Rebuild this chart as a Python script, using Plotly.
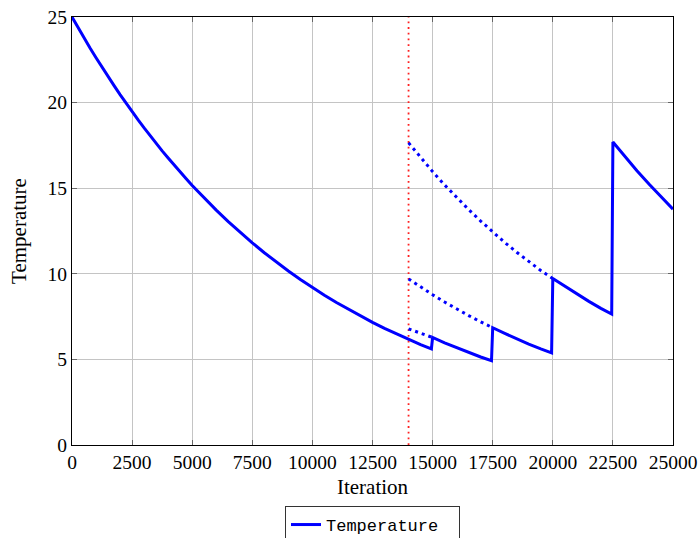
import plotly.graph_objects as go

# Main temperature curve (solid)
main_x = [0, 250, 500, 750, 1000, 1250, 1500, 1750, 2000, 2250, 2500, 2750, 3000, 3250, 3500,
          3750, 4000, 4250, 4500, 4750, 5000, 5500, 6000, 6500,
          7000, 7500, 8000, 8500, 9000, 9500, 10000, 10500, 11000, 11500, 12000, 12500,
          13000, 13500, 14000, 14500, 14950,
          15000, 15500, 16000, 16500, 17000, 17450,
          17500, 18000, 18500, 19000, 19500, 19950,
          20000, 20500, 21000, 21500, 22000, 22450,
          22500, 23000, 23500, 24000, 24500, 25000]
main_y = [25.00, 24.38, 23.78, 23.19, 22.62, 22.06, 21.52, 20.99, 20.47, 19.96, 19.47, 18.99,
          18.52, 18.06, 17.62, 17.18, 16.76, 16.34, 15.94, 15.55, 15.16, 14.42,
          13.72, 13.05, 12.41, 11.81, 11.23, 10.69, 10.16, 9.67, 9.20, 8.75, 8.32, 7.92, 7.53,
          7.16, 6.81, 6.48, 6.16, 5.86, 5.62,
          6.28, 5.97, 5.68, 5.41, 5.14, 4.92,
          6.85, 6.52, 6.20, 5.89, 5.61, 5.38,
          9.72, 9.27, 8.82, 8.39, 7.98, 7.65,
          17.70, 16.84, 16.02, 15.24, 14.49, 13.78]

# Dotted projections starting at the restart point
dotA_x = [14000, 14500, 15000]
dotA_y = [6.78, 6.52, 6.28]
dotB_x = [14000, 14500, 15000, 15500, 16000, 16500, 17000, 17500]
dotB_y = [9.70, 9.23, 8.78, 8.35, 7.94, 7.56, 7.19, 6.85]
dotC_x = [14000, 14500, 15000, 15500, 16000, 16500, 17000, 17500, 18000, 18500, 19000, 19500, 20000]
dotC_y = [17.65, 16.79, 15.97, 15.19, 14.45, 13.75, 13.08, 12.44, 11.83, 11.26, 10.71, 10.19, 9.72]

# Vertical marker
marker_x = [14000, 14000]
marker_y = [0, 25]

x_ticks = [0, 2500, 5000, 7500, 10000, 12500, 15000, 17500, 20000, 22500, 25000]
y_ticks = [0, 5, 10, 15, 20, 25]

BLUE = "#0000ff"
fig = go.Figure()
fig.add_trace(go.Scatter(x=marker_x, y=marker_y, mode="lines", showlegend=False,
                         line=dict(color="#ff2020", width=1.8, dash="1.8px,3.9px")))
for dx, dy in [(dotA_x, dotA_y), (dotB_x, dotB_y), (dotC_x, dotC_y)]:
    fig.add_trace(go.Scatter(x=dx, y=dy, mode="lines", showlegend=False,
                             line=dict(color=BLUE, width=3, dash="3px,4px")))
fig.add_trace(go.Scatter(x=main_x, y=main_y, mode="lines", name="Temperature",
                         line=dict(color=BLUE, width=3)))

serif = "Liberation Serif, DejaVu Serif, serif"
axis_common = dict(showgrid=True, gridcolor="#c4c4c4", gridwidth=1, automargin=False,
                   showline=True, linecolor="black", linewidth=1, mirror="ticks",
                   ticks="inside", ticklen=5, tickcolor="#666666", zeroline=False,
                   tickfont=dict(family=serif, size=19.5, color="black"))
fig.update_xaxes(range=[0, 25000], tickvals=x_ticks, ticktext=[str(v) for v in x_ticks],
                 title=dict(text="Iteration", font=dict(family=serif, size=21, color="black"),
                            standoff=6), **axis_common)
fig.update_yaxes(range=[0, 25], tickvals=y_ticks, ticktext=[str(v) for v in y_ticks],
                 title=dict(text="Temperature", font=dict(family=serif, size=21, color="black"),
                            standoff=15), **axis_common)
fig.update_layout(
    width=699, height=538,
    margin=dict(l=72, r=26, t=17, b=93, autoexpand=False),
    plot_bgcolor="white", paper_bgcolor="white",
    legend=dict(orientation="h", x=0.5, xanchor="center", y=-0.1425, yanchor="top",
                bordercolor="#333333", borderwidth=1, bgcolor="white", entrywidth=128,
                font=dict(family="Liberation Mono, DejaVu Sans Mono, monospace", size=17, color="black")),
)
fig.write_html("out.html", config={"displayModeBar": False},
               post_script="document.body.style.margin='0';document.body.style.overflow='hidden';")
